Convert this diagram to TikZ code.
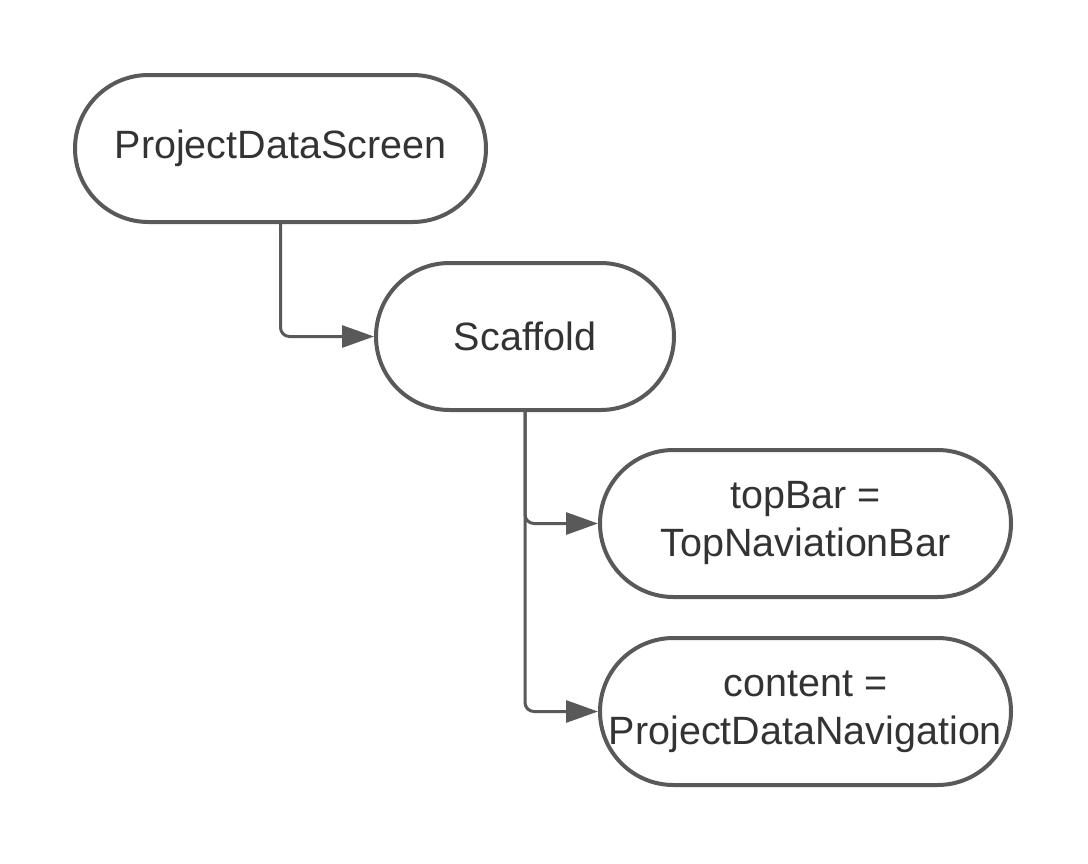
\documentclass[tikz,border=0pt]{standalone}
\usepackage{fontspec}
\setmainfont{Liberation Sans}
\usetikzlibrary{arrows.meta}
\definecolor{strk}{HTML}{595959}
\definecolor{txt}{HTML}{333333}
\begin{document}
\begin{tikzpicture}[x=1pt,y=-1pt,
  pill/.style={draw=strk, line width=4pt, rounded corners=73.5pt, minimum height=147pt,
    inner sep=0pt, align=center, text=txt, font=\fontsize{39.5}{48}\selectfont},
  conn/.style={draw=strk, line width=3pt, rounded corners=9pt,
    -{Triangle[length=32pt,width=22pt]}}
]
\useasboundingbox (0,0) rectangle (1088,863);
\node[pill, minimum width=411pt] (pds) at (280.5,148.5) {ProjectDataScreen};
\node[pill, minimum width=298pt] (sc) at (525,336.5) {Scaffold};
\node[pill, minimum width=411pt] (tb) at (805.5,523.5) {topBar =\\TopNaviationBar};
\node[pill, minimum width=411pt] (ct) at (805.5,711.5) {content =\\ProjectDataNavigation};
\draw[conn] (pds.south) |- (sc.west);
\draw[conn] (sc.south) |- (tb.west);
\draw[conn] (sc.south) |- (ct.west);
\end{tikzpicture}
\end{document}
